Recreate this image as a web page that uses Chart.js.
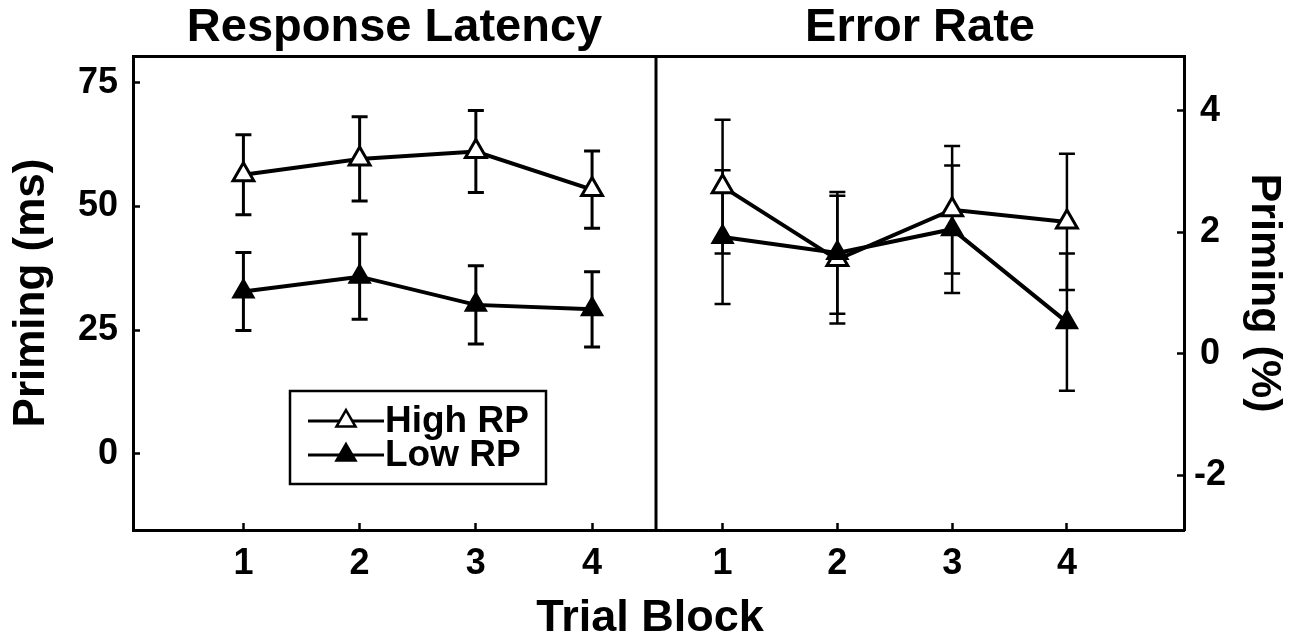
<!DOCTYPE html>
<html>
<head>
<meta charset="utf-8">
<script src="https://cdn.jsdelivr.net/npm/chart.js@4/dist/chart.umd.min.js"></script>
<style>
  html, body { margin: 0; padding: 0; background: #fff; }
  #wrap { width: 1300px; height: 644px; }
</style>
</head>
<body>
<div id="wrap"><canvas id="fig" width="1300" height="644"></canvas></div>
<script>
// trial blocks (x) and read-off values, left panel = ms, right panel = %
const blocks = [1, 2, 3, 4];
const latencyHigh = [56.4, 59.6, 61.1, 53.4];
const latencyHighErr = [8.1, 8.5, 8.3, 7.8];
const latencyLow = [32.8, 35.8, 30.1, 29.2];
const latencyLowErr = [7.9, 8.6, 7.9, 7.6];
const errorHigh = [2.75, 1.55, 2.37, 2.17];
const errorHighErr = [1.1, 1.05, 1.05, 1.12];
const errorLow = [1.92, 1.66, 2.05, 0.52];
const errorLowErr = [1.1, 1.0, 1.05, 1.13];
const latencyTicks = [0, 25, 50, 75];
const errorTicks = [-2, 0, 2, 4];
const seriesNames = ['High RP', 'Low RP'];

Chart.defaults.font.family = '"Liberation Sans", Arial, Helvetica, sans-serif';
Chart.defaults.font.weight = 'bold';
Chart.defaults.color = '#000';

const pts = vals => blocks.map((b, i) => ({x: b, y: vals[i]}));
const setTicks = list => scale => { scale.ticks = list.map(v => ({value: v})); };

// whiskers drawn under the markers
const errorBars = {
  id: 'errorBars',
  beforeDatasetsDraw(chart) {
    const ctx = chart.ctx;
    chart.data.datasets.forEach((ds, i) => {
      const xs = chart.scales[ds.xAxisID], ys = chart.scales[ds.yAxisID];
      ctx.save();
      ctx.strokeStyle = '#000';
      ctx.lineWidth = ds.errWidth;
      ds.data.forEach((p, j) => {
        const x = xs.getPixelForValue(p.x);
        const yt = ys.getPixelForValue(p.y + ds.errors[j]);
        const yb = ys.getPixelForValue(p.y - ds.errors[j]);
        ctx.beginPath();
        ctx.moveTo(x, yt); ctx.lineTo(x, yb);
        ctx.moveTo(x - ds.capHalf, yt); ctx.lineTo(x + ds.capHalf, yt);
        ctx.moveTo(x - ds.capHalf, yb); ctx.lineTo(x + ds.capHalf, yb);
        ctx.stroke();
      });
      ctx.restore();
    });
    // divider between the two panels
    const a = chart.chartArea, xm = chart.scales.x1.right;
    ctx.save();
    ctx.strokeStyle = '#000';
    ctx.lineWidth = 3;
    ctx.beginPath(); ctx.moveTo(xm, a.top); ctx.lineTo(xm, a.bottom); ctx.stroke();
    ctx.restore();
  }
};

function tri(ctx, x, y, r, filled) {
  ctx.beginPath();
  ctx.moveTo(x, y - r);
  ctx.lineTo(x + r * Math.sqrt(3) / 2, y + r / 2);
  ctx.lineTo(x - r * Math.sqrt(3) / 2, y + r / 2);
  ctx.closePath();
  ctx.fillStyle = filled ? '#000' : '#fff';
  ctx.fill();
  ctx.stroke();
}

// boxed legend inside the left panel
const boxLegend = {
  id: 'boxLegend',
  afterDraw(chart, args, o) {
    const ctx = chart.ctx, a = chart.chartArea;
    const left = a.left + o.left, top = a.top + o.top;
    ctx.save();
    ctx.strokeStyle = '#000';
    ctx.lineWidth = 2.5;
    ctx.strokeRect(left, top, o.width, o.height);
    ctx.font = 'bold ' + o.fontSize + 'px ' + Chart.defaults.font.family;
    ctx.textBaseline = 'middle';
    seriesNames.forEach((name, i) => {
      const y = top + o.rows[i];
      ctx.lineWidth = 3;
      ctx.beginPath(); ctx.moveTo(left + 18, y); ctx.lineTo(left + 94, y); ctx.stroke();
      ctx.lineWidth = 2.5;
      tri(ctx, left + 56, y, 11, i === 1);
      ctx.fillStyle = '#000';
      ctx.fillText(name, left + 95, y + 1);
    });
    ctx.restore();
  }
};

function series(label, vals, errs, xId, yId, filled, errWidth) {
  return {
    label, data: pts(vals), errors: errs, errWidth, capHalf: 8,
    xAxisID: xId, yAxisID: yId,
    borderColor: '#000', borderWidth: 4, tension: 0,
    pointStyle: 'triangle', pointRadius: 12,
    pointBorderWidth: filled ? 2 : 3,
    pointBorderColor: '#000',
    pointBackgroundColor: filled ? '#000' : '#fff',
    order: filled ? 0 : 1
  };
}

const xGrid = { display: true, drawOnChartArea: false, drawTicks: true, tickLength: -7, tickWidth: 2.5, tickColor: '#000', color: '#000' };
const frame = { display: true, color: '#000', width: 3 };

function xAxis(min, max, weight) {
  return {
    type: 'linear', position: 'bottom', stack: 'bottom', stackWeight: weight,
    min, max,
    afterBuildTicks: setTicks(blocks),
    afterFit: s => { s.height = 56; },
    grid: xGrid, border: frame,
    ticks: { padding: 19, font: { size: 36 }, color: '#000', maxRotation: 0, autoSkip: false }
  };
}

function topAxis(text, weight) {
  return {
    type: 'linear', position: 'top', stack: 'top', stackWeight: weight,
    afterFit: s => { s.height = 56; },
    grid: { display: false }, border: frame,
    ticks: { display: false },
    title: { display: true, text, color: '#000', font: { size: 47, lineHeight: 1 }, padding: { top: 4.5, bottom: 0 } }
  };
}

new Chart(document.getElementById('fig'), {
  type: 'line',
  data: {
    datasets: [
      series(seriesNames[0], latencyHigh, latencyHighErr, 'x1', 'yL', false, 3),
      series(seriesNames[1], latencyLow, latencyLowErr, 'x1', 'yL', true, 3),
      series(seriesNames[0], errorHigh, errorHighErr, 'x2', 'yR', false, 2.5),
      series(seriesNames[1], errorLow, errorLowErr, 'x2', 'yR', true, 2.5)
    ]
  },
  options: {
    responsive: false,
    animation: false,
    layout: { padding: 0 },
    scales: {
      x1: xAxis(0.05, 4.55, 523),
      x2: xAxis(0.42, 5.02, 528),
      // top stack is laid out in reverse, so the right title comes first
      tR: topAxis('Error Rate', 528),
      tL: topAxis('Response Latency', 523),
      yL: {
        type: 'linear', position: 'left', min: -15.4, max: 80.4,
        afterBuildTicks: setTicks(latencyTicks),
        afterFit: s => { s.width = 133; },
        grid: xGrid, border: frame,
        ticks: { padding: 22, font: { size: 36 }, color: '#000' },
        title: { display: true, text: 'Priming (ms)', color: '#000', font: { size: 44, lineHeight: 1 }, padding: { top: 10, bottom: 0 } }
      },
      yR: {
        type: 'linear', position: 'right', min: -2.9, max: 4.9,
        afterBuildTicks: setTicks(errorTicks),
        afterFit: s => { s.width = 116; },
        grid: xGrid, border: frame,
        ticks: { padding: 17, crossAlign: 'center', font: { size: 36 }, color: '#000' },
        title: { display: true, text: 'Priming (%)', color: '#000', font: { size: 43, lineHeight: 1 }, padding: { top: 14.5, bottom: 0 } }
      }
    },
    plugins: {
      legend: { display: false },
      tooltip: { enabled: false },
      title: { display: true, position: 'bottom', text: 'Trial Block', color: '#000', font: { size: 45, lineHeight: 1 }, padding: { top: 10.5, bottom: 2.5 } },
      boxLegend: { left: 157, top: 335, width: 256, height: 93, rows: [30, 64], fontSize: 37 }
    }
  },
  plugins: [errorBars, boxLegend]
});
</script>
</body>
</html>
